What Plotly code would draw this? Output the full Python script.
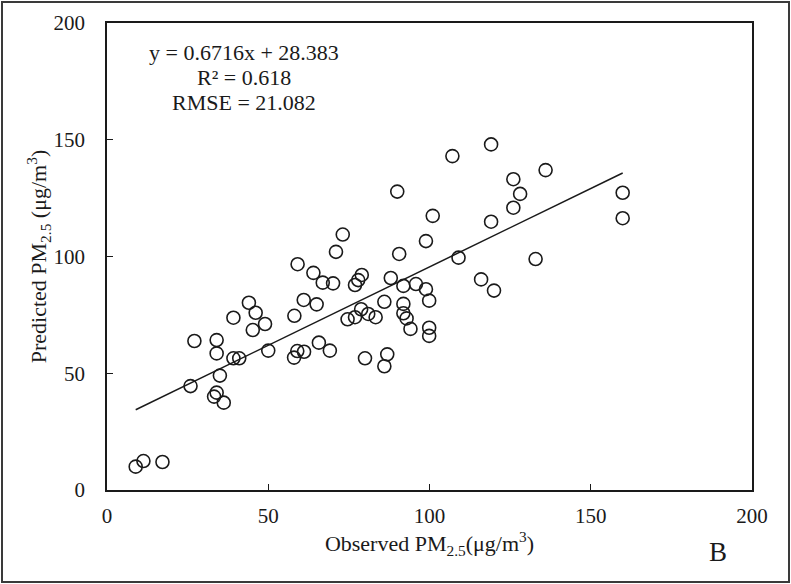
import plotly.graph_objects as go

observed = [8.9, 11.3, 17.2, 25.9, 27.1, 34.0, 34.0, 35.0, 34.0, 33.2, 36.2, 39.2, 41.0, 39.2,
            44.0, 46.1, 45.2, 49.0, 50.0, 58.1, 61.0, 65.0, 58.0, 59.0, 61.1, 65.7, 69.1, 59.1,
            64.0, 66.9, 70.1, 73.1, 71.0, 79.0, 77.9, 76.9, 74.6, 76.9, 78.8, 81.0, 83.3, 80.0,
            86.9, 86.0, 86.0, 88.0, 90.0, 90.6, 91.9, 95.8, 98.9, 99.9, 91.9, 91.9, 92.9, 94.1,
            99.9, 99.9, 98.9, 101.0, 107.1, 109.0, 116.0, 119.1, 119.1, 120.0, 126.0, 128.1,
            126.0, 132.9, 136.0, 159.9, 159.9]
predicted = [10.0, 12.4, 12.0, 44.5, 63.8, 64.2, 58.5, 49.0, 41.7, 40.0, 37.4, 56.4, 56.4, 73.8,
             80.2, 75.9, 68.5, 71.1, 59.7, 74.6, 81.4, 79.5, 56.7, 59.5, 59.2, 63.1, 59.7, 96.7,
             93.0, 88.8, 88.5, 109.4, 102.0, 92.1, 89.9, 87.8, 73.1, 74.0, 77.4, 75.4, 74.0, 56.4,
             58.1, 53.0, 80.6, 90.8, 127.8, 101.1, 87.4, 88.2, 86.0, 81.1, 79.7, 75.7, 73.5, 69.0,
             69.5, 66.0, 106.6, 117.4, 143.0, 99.5, 90.2, 148.0, 114.9, 85.4, 133.1, 126.8,
             120.9, 98.9, 137.0, 127.3, 116.4]

slope = 0.6716
intercept = 28.383
stats_lines = ["y = 0.6716x + 28.383", "R² = 0.618", "RMSE = 21.082"]
x_ticks = [0, 50, 100, 150, 200]
y_ticks = [0, 50, 100, 150, 200]

FONT = "Liberation Serif"
INK = "#1a1a1a"

fit_x = [min(observed), max(observed)]
fit_y = [slope * v + intercept for v in fit_x]

fig = go.Figure()
fig.add_trace(go.Scatter(
    x=observed, y=predicted, mode="markers",
    marker=dict(symbol="circle-open", size=13, color=INK, line=dict(width=1.6, color=INK)),
    showlegend=False, hoverinfo="x+y"))
fig.add_trace(go.Scatter(
    x=fit_x, y=fit_y, mode="lines", line=dict(color=INK, width=1.5),
    showlegend=False, hoverinfo="skip"))

for i, txt in enumerate(stats_lines):
    fig.add_annotation(x=42.5, y=187.3 - i * 10.7, xref="x", yref="y", text=txt,
                       showarrow=False, xanchor="center", yanchor="middle",
                       font=dict(family=FONT, size=22, color=INK))

fig.add_annotation(x=(718 - 107) / 645, y=(490 - 551.7) / 467, xref="paper", yref="paper",
                   text="B", showarrow=False, xanchor="center", yanchor="middle",
                   font=dict(family=FONT, size=27, color=INK))

# outer frame
fig.add_shape(type="rect", xref="paper", yref="paper",
              x0=(2 - 107) / 645, x1=(789 - 107) / 645,
              y0=(490 - 582) / 467, y1=(490 - 2) / 467,
              line=dict(color="#3a3a3a", width=2), fillcolor="rgba(0,0,0,0)", layer="below")

axis_common = dict(
    showgrid=False, zeroline=False, showline=True, linecolor=INK, linewidth=1.5,
    mirror=True, ticks="inside", ticklen=6, tickwidth=1.3, tickcolor=INK,
    tickfont=dict(family=FONT, size=21, color=INK),
)

fig.update_xaxes(**axis_common, range=[0, 200], tickvals=x_ticks, ticklabelstandoff=6,
                 title=dict(text="Observed PM<sub>2.5</sub>(μg/m<sup>3</sup>)", standoff=9,
                            font=dict(family=FONT, size=22, color=INK)))
fig.update_yaxes(**axis_common, range=[0, 200], tickvals=y_ticks, ticklabelstandoff=16,
                 title=dict(text="Predicted PM<sub>2.5</sub> (μg/m<sup>3</sup>)", standoff=0,
                            font=dict(family=FONT, size=22, color=INK)))

fig.update_layout(
    width=791, height=584,
    margin=dict(l=107, r=39, t=23, b=94, autoexpand=False),
    paper_bgcolor="white", plot_bgcolor="white",
    font=dict(family=FONT, color=INK),
)

fig.write_html("out.html", config={"displayModeBar": False},
               post_script="document.body.style.margin='0';")
